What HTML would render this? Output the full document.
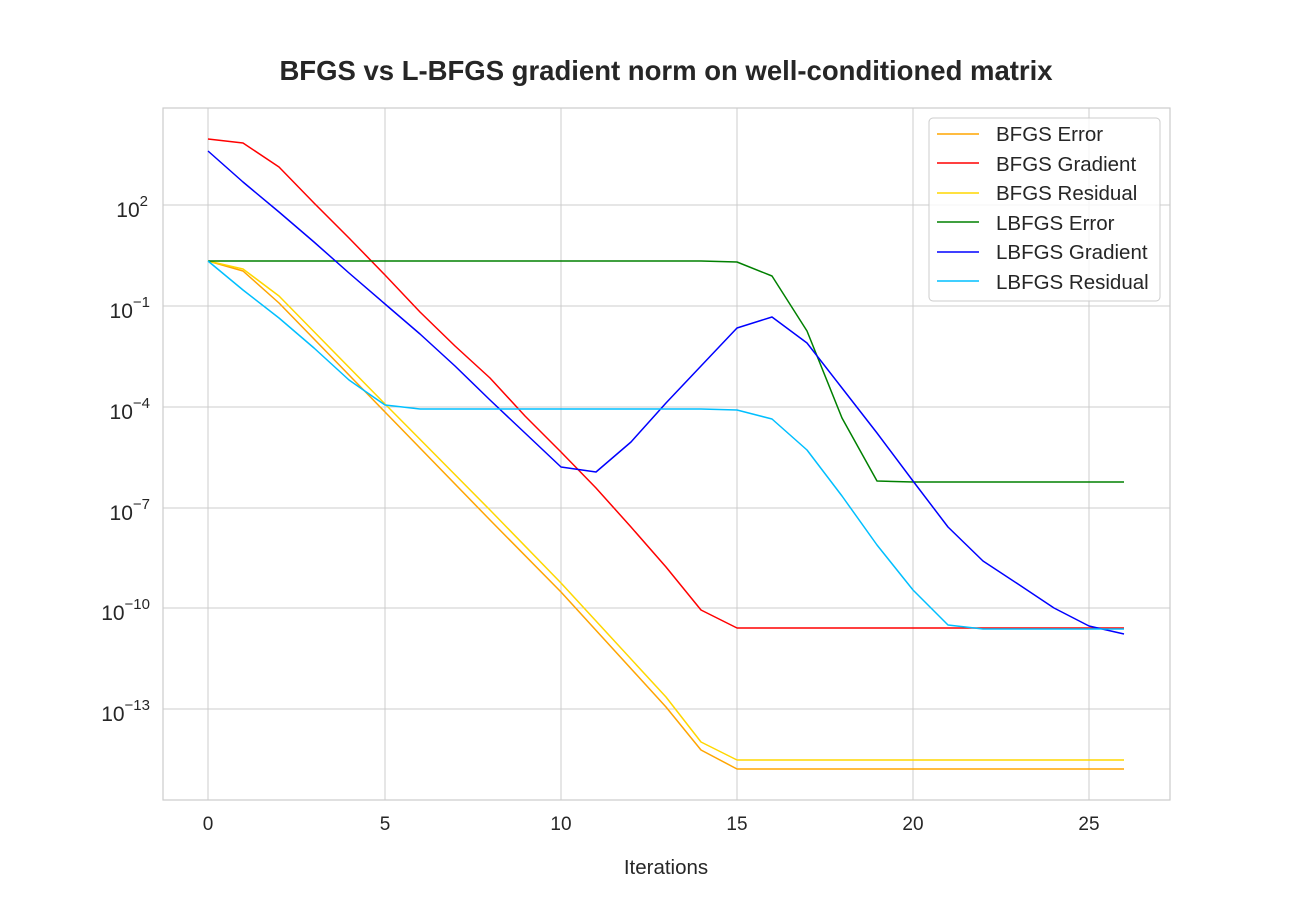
<!DOCTYPE html>
<html><head><meta charset="utf-8"><style>
html,body{margin:0;padding:0;background:#fff;}
svg text{font-family:"Liberation Sans",Arial,sans-serif;fill:#262626;}
</style></head><body>
<svg width="1300" height="900" viewBox="0 0 1300 900" xmlns="http://www.w3.org/2000/svg">
<rect width="1300" height="900" fill="#fff"/>
<text x="666" y="80" font-size="27.5" font-weight="bold" text-anchor="middle">BFGS vs L-BFGS gradient norm on well-conditioned matrix</text>
<g stroke="#cccccc" stroke-width="1">
<line x1="208" y1="108" x2="208" y2="800"/><line x1="385" y1="108" x2="385" y2="800"/>
<line x1="561" y1="108" x2="561" y2="800"/><line x1="737" y1="108" x2="737" y2="800"/>
<line x1="913" y1="108" x2="913" y2="800"/><line x1="1089" y1="108" x2="1089" y2="800"/>
<line x1="163" y1="205" x2="1170" y2="205"/><line x1="163" y1="306" x2="1170" y2="306"/>
<line x1="163" y1="407" x2="1170" y2="407"/><line x1="163" y1="508" x2="1170" y2="508"/>
<line x1="163" y1="608" x2="1170" y2="608"/><line x1="163" y1="709" x2="1170" y2="709"/>
</g>
<rect x="163" y="108" width="1007" height="692" fill="none" stroke="#cccccc" stroke-width="1.2"/>
<g font-size="19" text-anchor="middle">
<text x="208" y="830">0</text><text x="385" y="830">5</text><text x="561" y="830">10</text>
<text x="737" y="830">15</text><text x="913" y="830">20</text><text x="1089" y="830">25</text>
</g>
<text x="666" y="874" font-size="20.5" text-anchor="middle">Iterations</text>
<g font-size="21" text-anchor="end">
<text x="148" y="217">10<tspan font-size="15" dy="-11">2</tspan></text>
<text x="150" y="318">10<tspan font-size="15" dy="-11">−1</tspan></text>
<text x="150" y="419">10<tspan font-size="15" dy="-11">−4</tspan></text>
<text x="150" y="520">10<tspan font-size="15" dy="-11">−7</tspan></text>
<text x="150" y="620">10<tspan font-size="15" dy="-11">−10</tspan></text>
<text x="150" y="721">10<tspan font-size="15" dy="-11">−13</tspan></text>
</g>
<g fill="none" stroke-width="1.5" stroke-linejoin="round">
<polyline stroke="#ffa500" points="208,261 243,271 279,303 385,412 490,520 561,592 666,707 701,750 737,769 1124,769"/>
<polyline stroke="#ffd700" points="208,261 243,269 279,296 385,404 490,510 561,583 666,697 701,742 737,760 1124,760"/>
<polyline stroke="#ff0000" points="208,139 243,143 279,167 314,203 349,238 385,275 420,312 455,346 490,378 525,416 561,452 596,488 631,527 666,567 701,610 737,628 1124,628"/>
<polyline stroke="#008000" points="208,261 701,261 737,262 772,276 807,331 842,418 877,481 913,482 1124,482"/>
<polyline stroke="#0000ff" points="208,151 243,182 279,212 314,242 349,273 385,304 420,334 455,366 490,400 525,433 561,467 596,472 631,442 666,403 701,366 737,328 772,317 807,343 842,388 877,433 913,481 948,527 983,561 1018,584 1054,608 1089,626 1124,634"/>
<polyline stroke="#00bfff" points="208,261 243,290 279,318 314,348 349,380 385,405 420,409 701,409 737,410 772,419 807,450 842,496 877,545 913,590 948,625 983,629 1124,629"/>
</g>
<rect x="929" y="118" width="231" height="183" rx="4" fill="#fff" fill-opacity="0.8" stroke="#cccccc" stroke-width="1"/>
<g stroke-width="1.5">
<line x1="937" y1="134" x2="979" y2="134" stroke="#ffa500"/>
<line x1="937" y1="163" x2="979" y2="163" stroke="#ff0000"/>
<line x1="937" y1="193" x2="979" y2="193" stroke="#ffd700"/>
<line x1="937" y1="222" x2="979" y2="222" stroke="#008000"/>
<line x1="937" y1="252" x2="979" y2="252" stroke="#0000ff"/>
<line x1="937" y1="281" x2="979" y2="281" stroke="#00bfff"/>
</g>
<g font-size="20.5">
<text x="996" y="141">BFGS Error</text>
<text x="996" y="171">BFGS Gradient</text>
<text x="996" y="200">BFGS Residual</text>
<text x="996" y="230">LBFGS Error</text>
<text x="996" y="259">LBFGS Gradient</text>
<text x="996" y="289">LBFGS Residual</text>
</g>
</svg>
</body></html>
